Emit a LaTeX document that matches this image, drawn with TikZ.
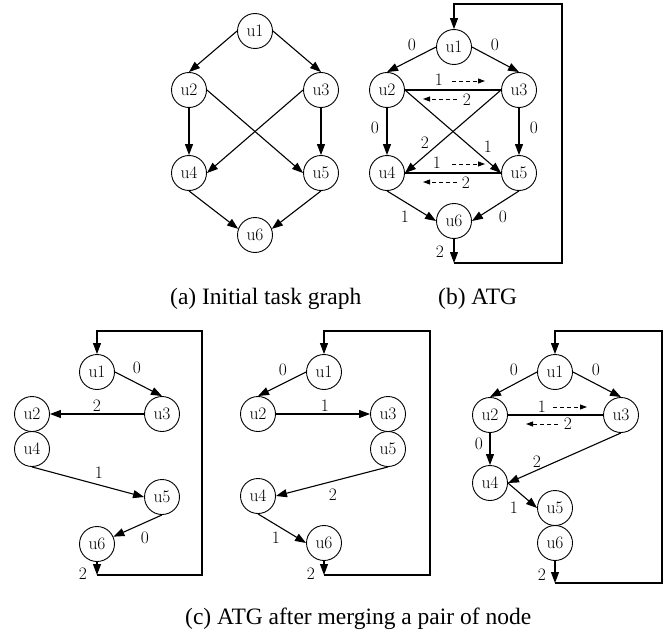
\documentclass[tikz,border=0pt]{standalone}
\usepackage{fontspec}
\newfontfamily\capfont{Liberation Serif}
\usepackage{tikz}
\usetikzlibrary{arrows.meta,positioning}

\tikzset{
  task/.style={draw, circle, minimum size=35pt, inner sep=0pt, line width=0.9pt, font=\fontsize{17.5}{20}\selectfont},
  edge/.style={-{Triangle[length=11pt,width=8pt]}, line width=1.1pt},
  link/.style={line width=1.1pt},
  wgt/.style={inner sep=0pt, font=\fontsize{17.5}{20}\selectfont},
  flow/.style={dash pattern=on 4pt off 3pt, -{Triangle[length=7pt,width=5pt]}, line width=0.9pt},
  subcap/.style={inner sep=0pt, anchor=base west, font=\capfont\fontsize{23.5}{28}\selectfont}
}

\begin{document}
\begin{tikzpicture}[x=1pt,y=-1pt]
\useasboundingbox (0,0) rectangle (667,634);

    % draw nodes
    \foreach \n/\x/\y in {1/255/31,2/189/90,3/321/90,4/189/173,5/321/173,6/255/235}
    \node[task] (a\n) at (\x,\y) {u\n};
    \foreach \n/\x/\y in {1/454/47,2/387/90,3/519/90,4/387/173,5/519/173,6/454/221}
    \node[task] (b\n) at (\x,\y) {u\n};
    \foreach \n/\x/\y in {1/97/372,2/32/414,3/162/414,4/32/449,5/162/497,6/97/544}
    \node[task] (c\n) at (\x,\y) {u\n};
    \foreach \n/\x/\y in {1/324/372,2/258/414,3/388/414,4/258/496,5/388/449,6/324/543}
    \node[task] (d\n) at (\x,\y) {u\n};
    \foreach \n/\x/\y in {1/555/372,2/490/415,3/621/415,4/490/483,5/555/508,6/555/543}
    \node[task] (e\n) at (\x,\y) {u\n};

    % (a) initial task graph
    \draw[edge] (a1.west) -- (a2.north);
    \draw[edge] (a1.east) -- (a3.north);
    \draw[edge] (a2.south) -- (a4.north);
    \draw[edge] (a3.south) -- (a5.north);
    \draw[edge] (a2.east) -- (a5.west);
    \draw[edge] (a3.west) -- (a4.east);
    \draw[edge] (a4.south) -- (a6.160);
    \draw[edge] (a5.south) -- (a6.20);

    % (b) ATG
    \draw[edge] (b1.west) -- (b2.north);
    \draw[edge] (b1.east) -- (b3.north);
    \draw[edge] (b2.south) -- (b4.north);
    \draw[edge] (b3.south) -- (b5.north);
    \draw[edge] (b2.east) -- (b5.west);
    \draw[edge] (b3.west) -- (b4.east);
    \draw[link] (b2.east) -- (b3.west);
    \draw[link] (b4.east) -- (b5.west);
    \draw[edge] (b4.south) -- (b6.west);
    \draw[edge] (b5.south) -- (b6.east);
    \coordinate (bbot) at (454,263);
    \coordinate (btop) at (454,4);
    \draw[edge] (b6) -- (bbot);
    \draw[edge] (bbot) -| (562,4) -- (btop) -- (b1);

    \node[wgt] at (412,45) {0};
    \node[wgt] at (495,45) {0};
    \node[wgt] at (439,80) {1};
    \draw[flow] (452,81) -- (485,81);
    \draw[flow] (457,99) -- (423,99);
    \node[wgt] at (467,100) {2};
    \node[wgt] at (375,128) {0};
    \node[wgt] at (534,128) {0};
    \node[wgt] at (425,143) {2};
    \node[wgt] at (488,147) {1};
    \node[wgt] at (437,163) {1};
    \draw[flow] (452,164) -- (485,164);
    \draw[flow] (457,182) -- (423,182);
    \node[wgt] at (466,183) {2};
    \node[wgt] at (405,217) {1};
    \node[wgt] at (503,217) {0};
    \node[wgt] at (440,252) {2};

    % (c) left
    \draw[edge] (c1.east) -- (c3.north);
    \draw[edge] (c3.west) -- (c2.east);
    \draw[edge] (c4.south) -- (c5.west);
    \draw[edge] (c5.south) -- (c6);
    \coordinate (cbot) at (97,575);
    \coordinate (ctop) at (97,331);
    \draw[edge] (c6) -- (cbot);
    \draw[edge] (cbot) -| (202,331) -- (ctop) -- (c1);

    \node[wgt] at (137,368) {0};
    \node[wgt] at (97,406) {2};
    \node[wgt] at (99,473) {1};
    \node[wgt] at (145,538) {0};
    \node[wgt] at (83,574) {2};

    % (c) middle
    \draw[edge] (d1.west) -- (d2.north);
    \draw[edge] (d2.east) -- (d3.west);
    \draw[edge] (d5.south) -- (d4.east);
    \draw[edge] (d4.south) -- (d6.west);
    \coordinate (dbot) at (324,575);
    \coordinate (dtop) at (324,331);
    \draw[edge] (d6) -- (dbot);
    \draw[edge] (dbot) -| (430,331) -- (dtop) -- (d1);

    \node[wgt] at (283,370) {0};
    \node[wgt] at (325,406) {1};
    \node[wgt] at (333,495) {2};
    \node[wgt] at (276,538) {1};
    \node[wgt] at (311,574) {2};

    % (c) right
    \draw[edge] (e1.west) -- (e2.north);
    \draw[edge] (e1.east) -- (e3.north);
    \draw[link] (e2.east) -- (e3.west);
    \draw[edge] (e2.south) -- (e4.north);
    \draw[edge] (e3.south) -- (e4.east);
    \draw[edge] (e4.east) -- (e5.west);
    \coordinate (ebot) at (555,583);
    \coordinate (etop) at (555,331);
    \draw[edge] (e6) -- (ebot);
    \draw[edge] (ebot) -| (662,331) -- (etop) -- (e1);

    \node[wgt] at (514,370) {0};
    \node[wgt] at (596,370) {0};
    \node[wgt] at (542,407) {1};
    \draw[flow] (553,407) -- (587,407);
    \draw[flow] (558,424) -- (526,424);
    \node[wgt] at (568,424) {2};
    \node[wgt] at (479,444) {0};
    \node[wgt] at (537,462) {2};
    \node[wgt] at (514,508) {1};
    \node[wgt] at (542,575) {2};

    % draw captions
    \node[subcap] (capa) at (170,304) {(a) Initial task graph};
    \node[subcap] (capb) at (438,304) {(b) ATG};
    \node[subcap] (capc) at (185,624) {(c) ATG after merging a pair of node};

\end{tikzpicture}
\end{document}
